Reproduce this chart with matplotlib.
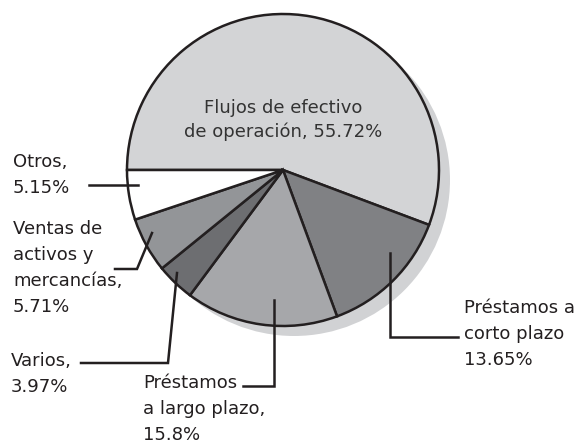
import matplotlib
matplotlib.use("Agg")
import matplotlib.pyplot as plt
from matplotlib.patches import Circle

# data (order: clockwise from the 9 o'clock position)
labels = ["Flujos de efectivo\nde operación, 55.72%",
          "Préstamos a\ncorto plazo\n13.65%",
          "Préstamos\na largo plazo,\n15.8%",
          "Varios,\n3.97%",
          "Ventas de\nactivos y\nmercancías,\n5.71%",
          "Otros,\n5.15%"]
shares = [55.72, 13.65, 15.8, 3.97, 5.71, 5.15]
colors = ["#d3d4d6", "#808184", "#a6a7aa", "#6d6e71", "#939598", "#ffffff"]

W, H = 579, 443
INK = "#231f20"
FS = 13


def py(y):
    # image-style y (from top) -> data y
    return H - y


fig = plt.figure(figsize=(W / 100, H / 100), dpi=100)
ax = fig.add_axes([0, 0, 1, 1])

cx, cy, r = 283, py(170), 156
ax.add_patch(Circle((cx + 11, cy - 10), r, color="#d1d2d4", zorder=0, lw=0))
ax.pie(shares, colors=colors, startangle=180, counterclock=False,
       center=(cx, cy), radius=r,
       wedgeprops=dict(edgecolor=INK, linewidth=1.8, zorder=2))

ax.set_xlim(0, W)
ax.set_ylim(0, H)
ax.set_aspect("equal")
ax.axis("off")

# label for the big slice sits inside it
ax.text(cx, py(120), labels[0], ha="center", va="center", fontsize=FS,
        color="#333333", linespacing=1.42, zorder=3)

# outside labels: (text x, block centre y, leader polyline in image coords)
outside = [
    (464, 334, [(390, 253), (390, 337), (458, 337)]),
    (143, 409, [(274, 300), (274, 386), (243, 386)]),
    (11, 374, [(177, 273), (168, 363), (81, 363)]),
    (13, 268, [(152, 233), (137, 269), (115, 269)]),
    (13, 175, [(138, 185), (89, 185)]),
]
for lab, (tx, ty, pts) in zip(labels[1:], outside):
    ax.text(tx, py(ty), lab, ha="left", va="center", fontsize=FS,
            color=INK, linespacing=1.56, zorder=3)
    xs = [p[0] for p in pts]
    ys = [py(p[1]) for p in pts]
    ax.plot(xs, ys, color=INK, lw=1.8, solid_joinstyle="miter", zorder=4)

fig.savefig("out.png", dpi=100)
